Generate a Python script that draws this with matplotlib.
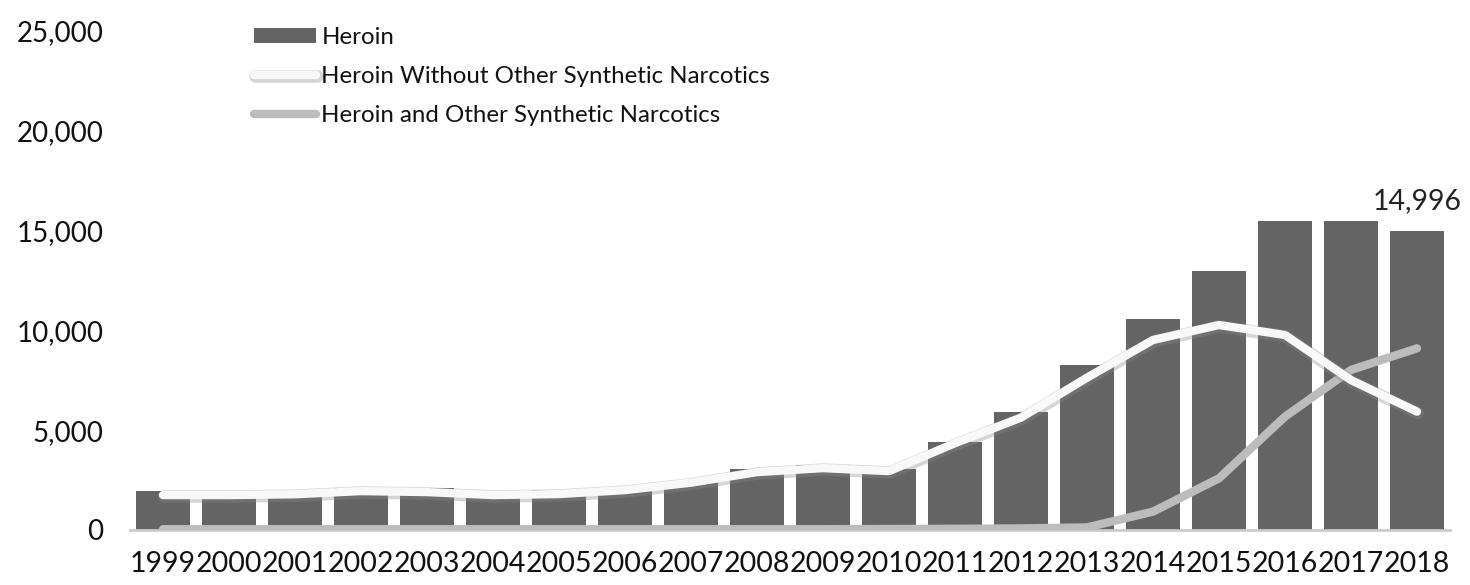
import matplotlib
matplotlib.use("Agg")
import matplotlib.pyplot as plt
import matplotlib.patheffects as pe
from matplotlib.ticker import FuncFormatter

years = [str(y) for y in range(1999, 2019)]
heroin = [1960, 1842, 1779, 2089, 2080, 1878, 2009, 2088, 2399, 3041,
          3278, 3036, 4397, 5925, 8257, 10574, 12989, 15469, 15482, 14996]
heroin_without = [1750, 1750, 1790, 1950, 1900, 1750, 1800, 2000, 2370, 2900,
                  3100, 2950, 4350, 5630, 7630, 9520, 10270, 9770, 7510, 5930]
heroin_and = [40, 40, 40, 40, 40, 40, 40, 40, 40, 40,
              40, 50, 60, 80, 130, 920, 2590, 5680, 8020, 9100]
yticks = [0, 5000, 10000, 15000, 20000, 25000]

plt.rcParams['font.family'] = ['Lato', 'DejaVu Sans']

fig = plt.figure(figsize=(14.7, 5.85), dpi=100)
ax = fig.add_axes([130/1470, 1 - 530/585, 1320/1470, 499/585])

x = list(range(len(years)))
bars = ax.bar(x, heroin, width=0.83, color='#646464', label='Heroin', zorder=2)
l1, = ax.plot(x, heroin_without, color='#f8f8f8', lw=6, solid_capstyle='round',
              solid_joinstyle='round', label='Heroin Without Other Synthetic Narcotics', zorder=4,
              path_effects=[pe.SimpleLineShadow(offset=(0.5, -1), shadow_color='#888888', alpha=0.35, linewidth=9),
                            pe.Normal()])
l2, = ax.plot(x, heroin_and, color='#bcbcbc', lw=6, solid_capstyle='round',
              solid_joinstyle='round', label='Heroin and Other Synthetic Narcotics', zorder=3)

ax.text(x[-1], heroin[-1] + 850, f"{heroin[-1]:,}", ha='center', va='bottom', fontsize=20.5, color='#222222')

ax.set_xlim(-0.5, len(years) - 0.5)
ax.set_ylim(0, 25000)
ax.set_yticks(yticks)
ax.yaxis.set_major_formatter(FuncFormatter(lambda v, p: f"{int(v):,}"))
ax.set_xticks(x)
ax.set_xticklabels(years)
ax.tick_params(axis='y', length=0, pad=19, labelsize=20, labelcolor='#111111')
ax.tick_params(axis='x', length=0, pad=15, labelsize=20.5, labelcolor='#111111')
for s in ['top', 'right', 'left']:
    ax.spines[s].set_visible(False)
ax.spines['bottom'].set_color('#cccccc')
ax.spines['bottom'].set_linewidth(2)

leg = ax.legend(handles=[bars, l1, l2], loc='upper left', bbox_to_anchor=(242/1470, 1 - 15/585),
                bbox_transform=fig.transFigure, frameon=False, fontsize=17.3,
                handlelength=2.6, handleheight=0.6, handletextpad=0.2, labelspacing=0.75, borderpad=0)
for t in leg.get_texts():
    t.set_color('#111111')

fig.savefig("out.png", dpi=100, facecolor='white')
